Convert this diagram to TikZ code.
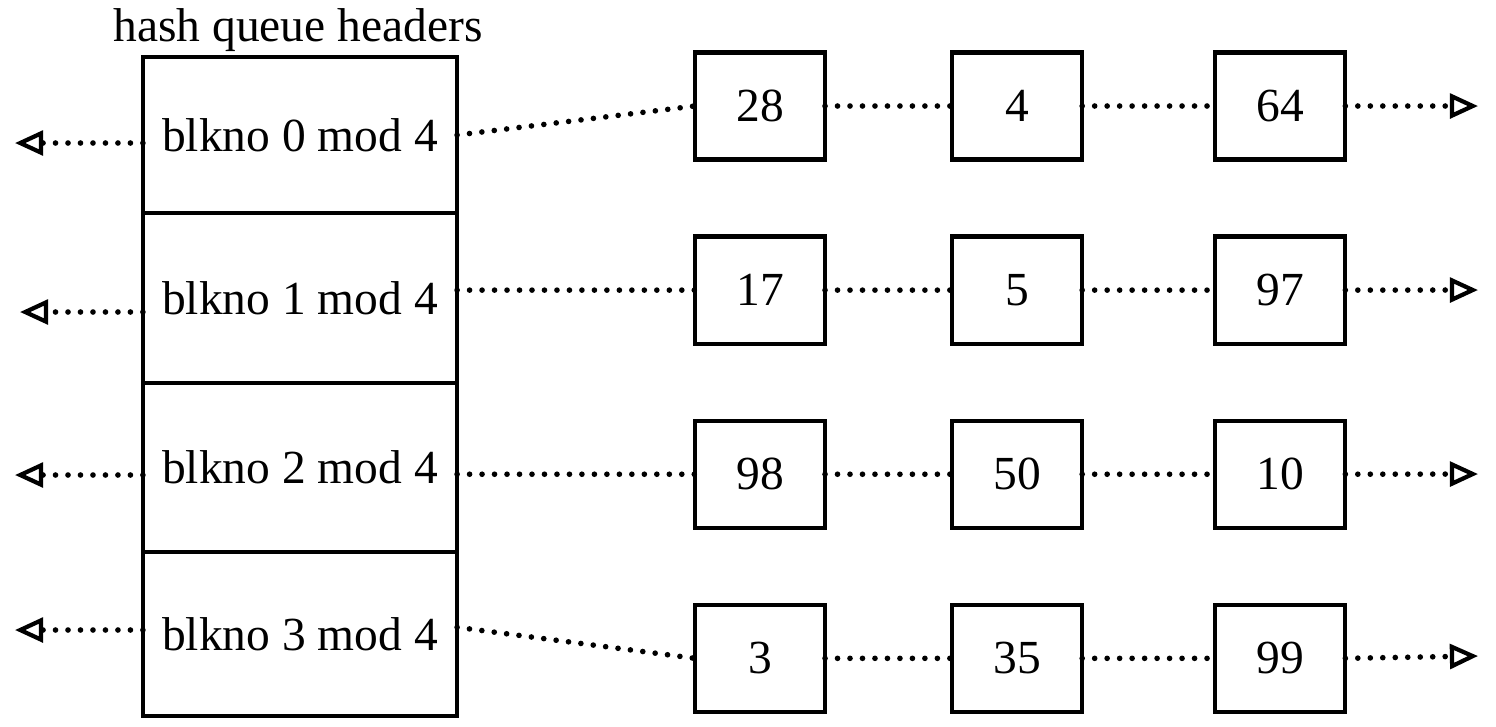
\documentclass[tikz,border=0pt]{standalone}
\usepackage{fontspec}
\setmainfont{Liberation Serif}
\usepackage{tikz}
\usetikzlibrary{arrows.meta,positioning}

\begin{document}
\begin{tikzpicture}[
    x=0.01cm, y=-0.01cm,
    font=\fontsize{13.5}{16}\selectfont,
    cell/.style={draw, line width=1.1pt, outer sep=0pt, minimum width=3.14cm, align=center},
    buf/.style={draw, line width=1.2pt, outer sep=0pt, minimum width=1.30cm, minimum height=1.07cm},
    link/.style={line width=1.6pt, line cap=round, dash pattern=on 0pt off 3.55pt},
    arrow/.style={link, -{Triangle[open, length=8pt, width=7pt, line width=1.2pt]}}
]
    \useasboundingbox (0,0) rectangle (1496,726);

    % Hash queue headers
    \node[cell, minimum height=1.56cm] (hdr0) at (300,135) {blkno 0 mod 4};
    \node[cell, minimum height=1.70cm, below=0pt of hdr0] (hdr1) {blkno 1 mod 4};
    \node[cell, minimum height=1.69cm, below=0pt of hdr1] (hdr2) {blkno 2 mod 4};
    \node[cell, minimum height=1.64cm, below=0pt of hdr2] (hdr3) {blkno 3 mod 4};
    \node (title) at (298,30) {hash queue headers};

    % Buffers on the hash queues
    \node[buf] (b28) at (760,106) {28};
    \node[buf, right=1.27cm of b28] (b4) {4};
    \node[buf, right=1.33cm of b4] (b64) {64};

    \node[buf, below=0.77cm of b28] (b17) {17};
    \node[buf, right=1.27cm of b17] (b5) {5};
    \node[buf, right=1.33cm of b5] (b97) {97};

    \node[buf, below=0.77cm of b17] (b98) {98};
    \node[buf, right=1.27cm of b98] (b50) {50};
    \node[buf, right=1.33cm of b50] (b10) {10};

    \node[buf, below=0.77cm of b98] (b3) {3};
    \node[buf, right=1.27cm of b3] (b35) {35};
    \node[buf, right=1.33cm of b35] (b99) {99};

    % Free ends of the lists
    \coordinate (l0) at (15,143);
    \coordinate (l1) at (20,312);
    \coordinate (l2) at (15,475);
    \coordinate (l3) at (15,630);
    \coordinate (r0) at (1478,106);
    \coordinate (r1) at (1478,290);
    \coordinate (r2) at (1478,474);
    \coordinate (r3) at (1478,656);

    % Row 0
    \draw[arrow] (hdr0.west |- l0) -- (l0);
    \draw[link] (hdr0.east) -- (b28.west);
    \draw[link] (b28) -- (b4);
    \draw[link] (b4) -- (b64);
    \draw[arrow] (b64.east) -- (r0);

    % Row 1
    \draw[arrow] (hdr1.west |- l1) -- (l1);
    \draw[link] (hdr1.east |- b17.west) -- (b17.west);
    \draw[link] (b17) -- (b5);
    \draw[link] (b5) -- (b97);
    \draw[arrow] (b97.east) -- (r1);

    % Row 2
    \draw[arrow] (hdr2.west |- l2) -- (l2);
    \draw[link] (hdr2.east |- b98.west) -- (b98.west);
    \draw[link] (b98) -- (b50);
    \draw[link] (b50) -- (b10);
    \draw[arrow] (b10.east) -- (r2);

    % Row 3
    \draw[arrow] (hdr3.west |- l3) -- (l3);
    \draw[link] ([yshift=0.07cm]hdr3.east) -- (b3.west);
    \draw[link] (b3) -- (b35);
    \draw[link] (b35) -- (b99);
    \draw[arrow] (b99.east) -- (r3);
\end{tikzpicture}
\end{document}
